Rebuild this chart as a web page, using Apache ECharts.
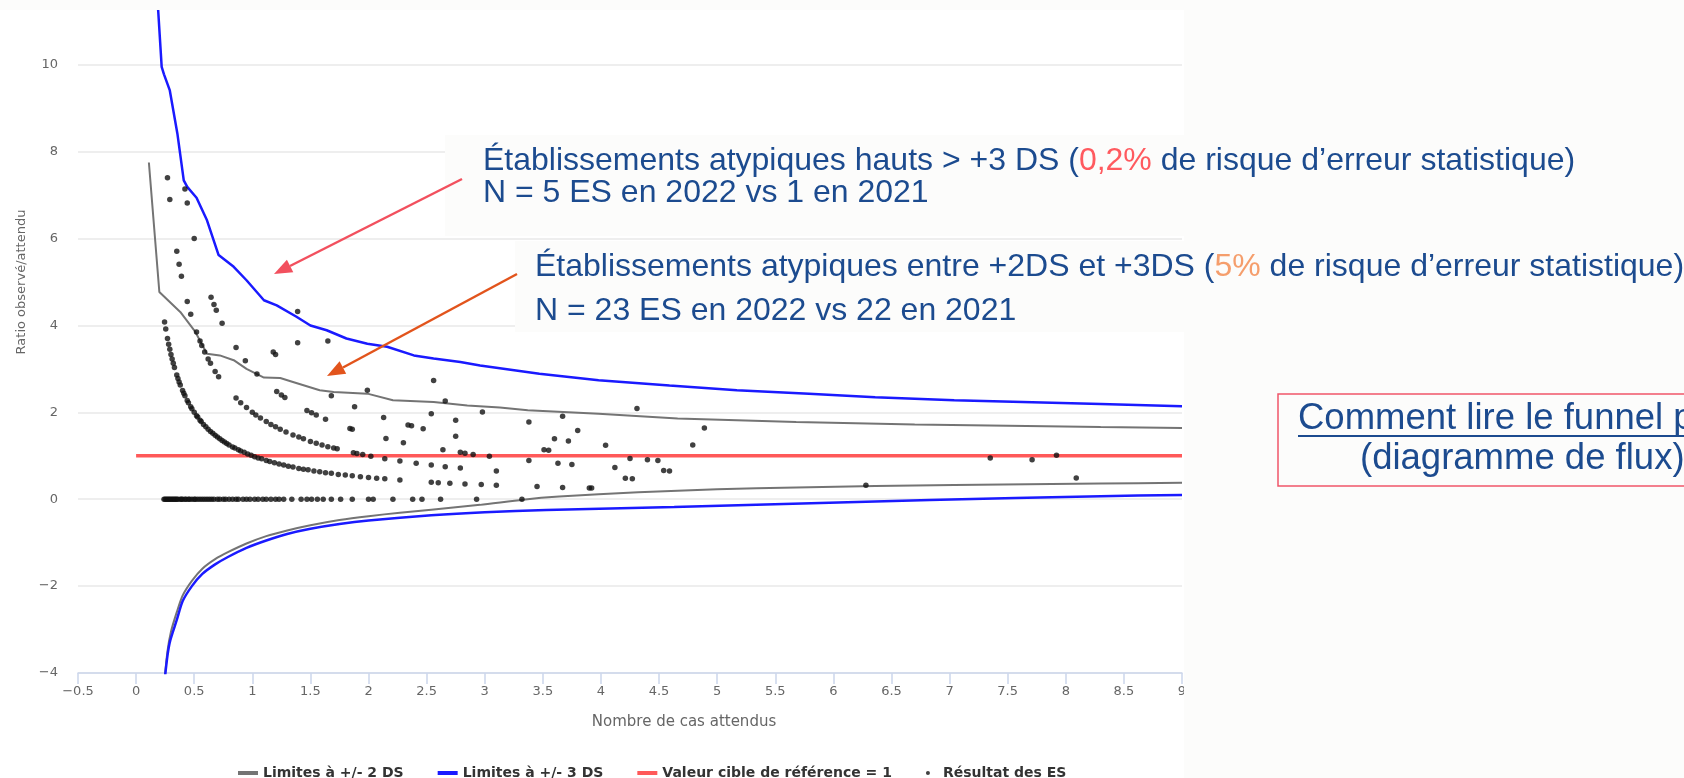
<!DOCTYPE html>
<html><head><meta charset="utf-8">
<script src="https://cdn.jsdelivr.net/npm/echarts@6/dist/echarts.min.js"></script>
<style>html,body{margin:0;padding:0;background:#fff}#c{width:1684px;height:778px}</style>
</head><body><div id="c"></div>
<script>
// ---- axes ----
const xMin = -0.5, xMax = 9, xStep = 0.5;
const yMin = -4, yMax = 14, yStep = 2;

// ---- limit lines [expected, ratio] ----
const upper3 = [[0.17,12.6],[0.19,11.25],[0.22,9.95],[0.24,9.78],[0.29,9.41],[0.355,8.42],[0.41,7.34],[0.44,7.19],[0.52,6.94],[0.61,6.42],[0.71,5.62],[0.84,5.35],[0.95,5.04],[1.10,4.58],[1.21,4.46],[1.38,4.20],[1.50,4.00],[1.64,3.89],[1.81,3.70],[1.99,3.58],[2.16,3.51],[2.39,3.31],[2.56,3.24],[2.79,3.16],[2.96,3.08],[3.47,2.89],[3.98,2.74],[4.59,2.62],[5.17,2.51],[5.79,2.43],[6.36,2.35],[7.04,2.28],[8.30,2.19],[9.0,2.14]];
const upper2 = [[0.11,7.75],[0.20,4.77],[0.38,4.31],[0.51,3.85],[0.61,3.35],[0.72,3.31],[0.84,3.20],[0.95,3.00],[1.10,2.80],[1.24,2.79],[1.35,2.70],[1.58,2.51],[1.70,2.47],[1.99,2.43],[2.21,2.28],[2.56,2.24],[2.85,2.16],[3.13,2.11],[3.37,2.05],[3.98,1.97],[4.66,1.86],[5.68,1.78],[6.70,1.72],[8.30,1.66],[9.0,1.64]];
const lower2 = [[0.243,-4.2],[0.27,-3.5],[0.30,-3.05],[0.35,-2.6],[0.40,-2.22],[0.48,-1.88],[0.57,-1.6],[0.68,-1.38],[0.79,-1.22],[0.95,-1.02],[1.12,-0.85],[1.30,-0.72],[1.50,-0.6],[1.75,-0.48],[2.00,-0.39],[2.27,-0.31],[2.54,-0.24],[2.96,-0.13],[3.33,-0.01],[3.64,0.06],[4.32,0.16],[5.00,0.23],[5.68,0.27],[7.04,0.33],[8.30,0.36],[9.0,0.38]];
const lower3 = [[0.24,-4.3],[0.27,-3.6],[0.294,-3.25],[0.35,-2.78],[0.40,-2.35],[0.48,-2.0],[0.57,-1.72],[0.68,-1.5],[0.79,-1.33],[0.95,-1.12],[1.12,-0.95],[1.30,-0.80],[1.50,-0.68],[1.75,-0.57],[2.00,-0.49],[2.54,-0.37],[3.00,-0.30],[3.53,-0.25],[4.63,-0.18],[5.73,-0.10],[6.83,-0.02],[8.30,0.07],[9.0,0.10]];
const refLine = [[0,1],[9,1]];

// ---- establishments (grouped by observed count) ----
const obs0X = [0.24,0.25,0.26,0.27,0.28,0.29,0.30,0.31,0.32,0.33,0.34,0.35,0.36,0.38,0.39,0.40,0.42,0.43,0.45,0.46,0.48,0.50,0.51,0.53,0.55,0.57,0.59,0.61,0.63,0.65,0.67,0.70,0.72,0.75,0.77,0.80,0.83,0.86,0.88,0.92,0.95,0.98,1.02,1.05,1.09,1.12,1.16,1.20,1.23,1.27,1.34,1.42,1.47,1.51,1.56,1.61,1.68,1.76,1.86,2.00,2.04,2.21,2.38,2.46,2.62,2.93,3.32];
const obs1 = [[0.245,4.08],[0.255,3.92],[0.27,3.70],[0.28,3.57],[0.29,3.45],[0.30,3.33],[0.31,3.23],[0.32,3.13],[0.33,3.03],[0.35,2.86],[0.36,2.78],[0.37,2.70],[0.38,2.63],[0.40,2.50],[0.41,2.44],[0.42,2.38],[0.44,2.27],[0.45,2.22],[0.47,2.13],[0.48,2.08],[0.50,2.00],[0.52,1.92],[0.53,1.89],[0.55,1.82],[0.56,1.79],[0.58,1.72],[0.60,1.67],[0.62,1.61],[0.64,1.56],[0.66,1.52],[0.68,1.47],[0.70,1.43],[0.72,1.39],[0.74,1.35],[0.76,1.32],[0.78,1.28],[0.80,1.25],[0.83,1.20],[0.85,1.18],[0.88,1.14],[0.90,1.11],[0.93,1.08],[0.96,1.04],[0.99,1.01],[1.02,0.98],[1.05,0.95],[1.08,0.93],[1.12,0.89],[1.15,0.87],[1.19,0.84],[1.23,0.81],[1.27,0.79],[1.31,0.76],[1.35,0.74],[1.40,0.71],[1.44,0.69],[1.48,0.68],[1.53,0.65],[1.58,0.63],[1.63,0.61],[1.68,0.60],[1.74,0.57],[1.80,0.56],[1.86,0.54],[1.93,0.52],[2.00,0.50],[2.07,0.48],[2.14,0.47],[2.27,0.44],[2.54,0.39],[2.60,0.38],[2.70,0.37],[2.83,0.35],[2.97,0.34],[3.10,0.32],[3.45,0.29],[3.67,0.27],[3.90,0.26],[3.92,0.26]];
const obs2 = [[0.27,7.40],[0.29,6.90],[0.35,5.71],[0.37,5.41],[0.39,5.13],[0.44,4.55],[0.47,4.26],[0.52,3.85],[0.55,3.64],[0.565,3.54],[0.59,3.39],[0.62,3.23],[0.64,3.13],[0.68,2.94],[0.71,2.82],[0.86,2.33],[0.90,2.22],[0.95,2.11],[1.00,2.00],[1.03,1.94],[1.07,1.87],[1.12,1.79],[1.16,1.72],[1.20,1.67],[1.24,1.61],[1.29,1.55],[1.35,1.48],[1.40,1.43],[1.44,1.39],[1.50,1.33],[1.55,1.29],[1.60,1.25],[1.65,1.21],[1.70,1.18],[1.73,1.16],[1.87,1.07],[1.90,1.05],[1.95,1.03],[2.02,0.99],[2.14,0.93],[2.27,0.88],[2.41,0.83],[2.54,0.79],[2.66,0.75],[2.79,0.72],[3.10,0.65],[4.21,0.48],[4.27,0.47],[6.28,0.32]];
const obs3 = [[0.42,7.14],[0.44,6.82],[0.50,6.00],[0.645,4.65],[0.67,4.48],[0.69,4.35],[0.74,4.05],[0.86,3.49],[0.94,3.19],[1.04,2.88],[1.21,2.48],[1.25,2.40],[1.28,2.34],[1.47,2.04],[1.51,1.99],[1.55,1.94],[1.63,1.84],[1.84,1.63],[1.86,1.61],[2.15,1.40],[2.30,1.30],[2.64,1.14],[2.79,1.08],[2.83,1.06],[2.90,1.03],[3.04,0.99],[3.38,0.89],[3.63,0.83],[3.75,0.80],[4.12,0.73],[4.54,0.66],[4.59,0.65]];
const obs4 = [[1.18,3.39],[1.20,3.33],[1.68,2.38],[1.88,2.13],[2.13,1.88],[2.34,1.71],[2.37,1.69],[2.47,1.62],[2.75,1.45],[3.51,1.14],[3.55,1.13],[4.25,0.94],[4.40,0.91],[4.49,0.89],[8.09,0.49]];
const obs5 = [[1.39,3.60],[1.99,2.51],[2.54,1.97],[2.75,1.82],[3.60,1.39],[3.72,1.34],[4.04,1.24]];
const obs6 = [[1.39,4.32],[1.65,3.64],[2.66,2.26],[2.98,2.01],[3.38,1.78],[3.80,1.58],[4.79,1.25]];
const obs7plus = [[2.56,2.73],[3.67,1.91],[7.35,0.95],[7.71,0.91],[4.89,1.64],[7.92,1.01],[4.31,2.09]];

// ---- texts ----
const legendNames = ['Limites à +/- 2 DS','Limites à +/- 3 DS','Valeur cible de référence = 1','Résultat des ES'];
const xTitle = 'Nombre de cas attendus';
const yTitle = 'Ratio observé/attendu';
const ann1 = ['Établissements atypiques hauts > +3 DS (', '0,2%', ' de risque d’erreur statistique)', 'N = 5 ES en 2022 vs 1 en 2021'];
const ann2 = ['Établissements atypiques entre +2DS et +3DS (', '5%', ' de risque d’erreur statistique)', 'N = 23 ES en 2022 vs 22 en 2021'];
const boxText = ['Comment lire le funnel plot', '(diagramme de flux)'];

const GRAY = '#747474', BLUE = '#1a1aff', RED = '#ff5959', DOT = '#111111';
const TXT = '#1c4b8f', SLIDE = '#fcfcfb';
const FONT = 'DejaVu Sans';
const AFONT = '32px "Liberation Sans", Arial, sans-serif';
const BFONT = '36.5px "Liberation Sans", Arial, sans-serif';
const fmt = v => (v < 0 ? '\u2212' : '') + String(Math.abs(v));

const esData = obs0X.map(x => [x, 0]).concat(obs1, obs2, obs3, obs4, obs5, obs6, obs7plus);

function txt(x, y, text, extra) {
  return {type:'text', z:120, style:Object.assign({x:x, y:y, text:text, font:AFONT, fill:TXT,
    align:'left', verticalAlign:'middle', textAlign:'left', textVerticalAlign:'middle'}, extra||{})};
}
function richLine(x, y, parts, hlColor) {
  return {type:'text', z:120, style:{x:x, y:y, text:'{a|'+parts[0]+'}{h|'+parts[1]+'}{a|'+parts[2]+'}',
    font:AFONT, fill:TXT, align:'left', verticalAlign:'middle', textAlign:'left', textVerticalAlign:'middle',
    rich:{a:{font:AFONT, fill:TXT, color:TXT}, h:{font:AFONT, fill:hlColor, color:hlColor}}}};
}

const chart = echarts.init(document.getElementById('c'));
chart.setOption({
  animation:false,
  backgroundColor:'#ffffff',
  grid:{left:78, right:502, top:-109, bottom:105, containLabel:false, outerBoundsMode:'none'},
  xAxis:{type:'value', min:xMin, max:xMax, interval:xStep,
    axisLine:{show:true, onZero:false, lineStyle:{color:'#ccd6eb', width:1.5}},
    axisTick:{show:true, length:11, lineStyle:{color:'#ccd6eb', width:1.5}},
    splitLine:{show:false},
    axisLabel:{color:'#666', fontFamily:FONT, fontSize:13, margin:12, formatter:fmt},
    name:xTitle, nameLocation:'middle', nameGap:42,
    nameTextStyle:{color:'#666', fontFamily:FONT, fontSize:15, padding:[0,0,0,108]}},
  yAxis:{type:'value', min:yMin, max:yMax, interval:yStep,
    axisLine:{show:false}, axisTick:{show:false},
    splitLine:{lineStyle:{color:'#e8e8e8', width:1.5}},
    axisLabel:{color:'#666', fontFamily:FONT, fontSize:13, margin:20, formatter:fmt},
    name:yTitle, nameLocation:'middle', nameGap:50,
    nameTextStyle:{color:'#666', fontFamily:FONT, fontSize:13}},
  legend:{left:233, top:761, itemWidth:20, itemHeight:4, itemGap:34,
    textStyle:{color:'#333', fontFamily:FONT, fontWeight:'bold', fontSize:14},
    data:[{name:legendNames[0], icon:'rect'},{name:legendNames[1], icon:'rect'},{name:legendNames[2], icon:'rect'},{name:legendNames[3], icon:'circle'}]},
  series:[
    {name:legendNames[0], type:'line', data:upper2, symbol:'none', lineStyle:{color:GRAY, width:2}, itemStyle:{color:GRAY}, z:3},
    {name:legendNames[0], type:'line', data:lower2, symbol:'none', smooth:0.25, lineStyle:{color:GRAY, width:2}, itemStyle:{color:GRAY}, z:3},
    {name:legendNames[1], type:'line', data:upper3, symbol:'none', lineStyle:{color:BLUE, width:2.5}, itemStyle:{color:BLUE}, z:3},
    {name:legendNames[1], type:'line', data:lower3, symbol:'none', smooth:0.25, lineStyle:{color:BLUE, width:2.5}, itemStyle:{color:BLUE}, z:3},
    {name:legendNames[2], type:'line', data:refLine, symbol:'none', lineStyle:{color:RED, width:3.5}, itemStyle:{color:RED}, z:4},
    {name:legendNames[3], type:'scatter', data:esData, symbolSize:5.5, itemStyle:{color:DOT}, z:5}
  ],
  graphic:[
    {type:'rect', z:100, shape:{x:0, y:0, width:1684, height:10}, style:{fill:SLIDE}},
    {type:'rect', z:100, shape:{x:1184, y:0, width:500, height:778}, style:{fill:SLIDE}},
    {type:'rect', z:101, shape:{x:445, y:135, width:1239, height:101}, style:{fill:SLIDE}},
    {type:'rect', z:101, shape:{x:515, y:241, width:1169, height:91}, style:{fill:SLIDE}},
    richLine(483, 161, ann1, '#ff5a5f'),
    txt(483, 193, ann1[3]),
    richLine(535, 267, ann2, '#f59e6c'),
    txt(535, 311, ann2[3]),
    {type:'line', z:115, shape:{x1:462, y1:179, x2:290, y2:266}, style:{stroke:'#f2505e', lineWidth:2.5}},
    {type:'polygon', z:115, shape:{points:[[274,274],[293.3,272.2],[286.9,259.7]]}, style:{fill:'#f2505e'}},
    {type:'line', z:115, shape:{x1:517, y1:274, x2:343, y2:367.5}, style:{stroke:'#e2541c', lineWidth:2.5}},
    {type:'polygon', z:115, shape:{points:[[327,376],[346.2,373.7],[339.6,361.3]]}, style:{fill:'#e2541c'}},
    {type:'rect', z:110, shape:{x:1278, y:394, width:500, height:92}, style:{fill:SLIDE, stroke:'#f0566a', lineWidth:1.5}},
    txt(1298, 419, boxText[0], {font:BFONT}),
    {type:'line', z:120, shape:{x1:1298, y1:436, x2:1720, y2:436}, style:{stroke:TXT, lineWidth:2}},
    txt(1360, 459, boxText[1], {font:BFONT})
  ]
});
</script></body></html>
